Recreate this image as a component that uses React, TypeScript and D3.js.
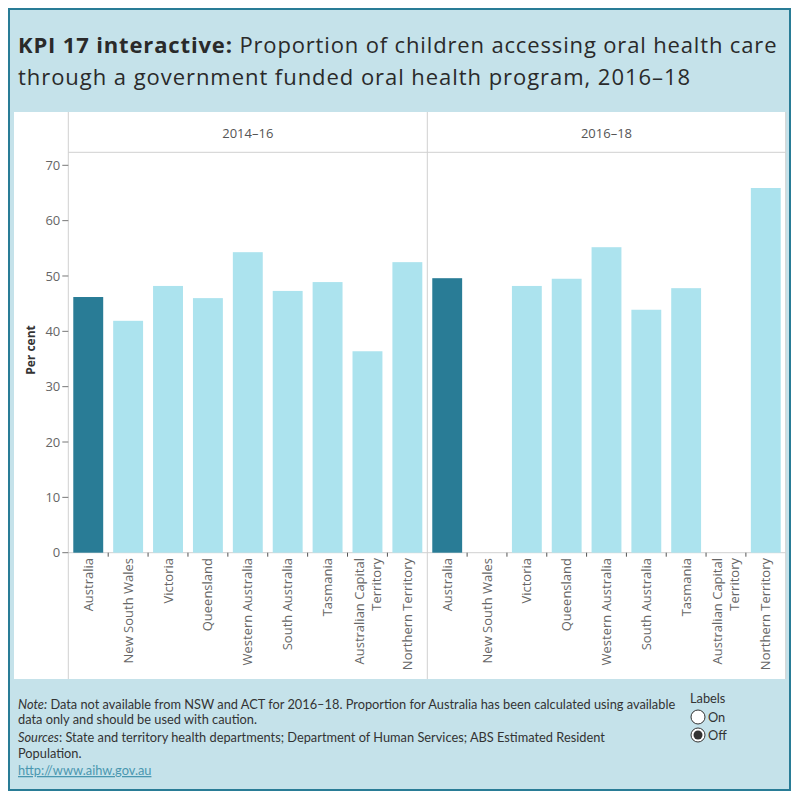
import React from "react";
import * as d3 from "d3";

const categories = [
  "Australia",
  "New South Wales",
  "Victoria",
  "Queensland",
  "Western Australia",
  "South Australia",
  "Tasmania",
  "Australian Capital Territory",
  "Northern Territory",
];
const periods = ["2014–16", "2016–18"];
const values1416: (number | null)[] = [46.2, 41.9, 48.2, 46.0, 54.3, 47.3, 48.9, 36.4, 52.5];
const values1618: (number | null)[] = [49.6, null, 48.2, 49.5, 55.2, 43.9, 47.8, null, 65.9];
const yTicks = [0, 10, 20, 30, 40, 50, 60, 70];

const labelLines: Record<string, string[]> = {
  "Australian Capital Territory": ["Australian Capital", "Territory"],
};

const DARK = "#297c96";
const LIGHT = "#ace3ee";
const BG = "#c5e2ea";
const GRID = "#d0d0d0";
const FONT = "Lato, 'Open Sans', sans-serif";
const TFONT = "'Open Sans', sans-serif";

export default function App() {
  const panelTop = 112;
  const panelBottom = 679;
  const headerBottom = 152.3;
  const axisLeft = 68.3;
  const divider = 427.3;
  const panelRight = 785.7;

  const y = d3.scaleLinear().domain([0, 70]).range([552.7, 165.3]);

  const panels = [
    { label: periods[0], values: values1416, x0: axisLeft, x1: divider },
    { label: periods[1], values: values1618, x0: divider, x1: panelRight },
  ];

  return (
    <svg width={800} height={800} style={{ position: "absolute", left: 0, top: 0 }}>
      <rect x={9} y={9} width={781} height={781} fill={BG} stroke={DARK} strokeWidth={2} />
      <text x={18} y={53} fontFamily={TFONT} fontSize={22} fill="#2a2a2a" letterSpacing={0.85}>
        <tspan fontWeight="bold">KPI 17 interactive:</tspan>
        <tspan> Proportion of children accessing oral health care</tspan>
      </text>
      <text x={18} y={85} fontFamily={TFONT} fontSize={22} fill="#2a2a2a" letterSpacing={0.95}>
        through a government funded oral health program, 2016–18
      </text>

      <rect x={14} y={panelTop} width={panelRight - 14} height={panelBottom - panelTop} fill="#fff" />
      <line x1={axisLeft} x2={panelRight} y1={headerBottom} y2={headerBottom} stroke={GRID} />
      <line x1={axisLeft} x2={axisLeft} y1={panelTop} y2={panelBottom} stroke={GRID} />
      <line x1={divider} x2={divider} y1={panelTop} y2={panelBottom} stroke={GRID} />
      <line x1={panelRight} x2={panelRight} y1={panelTop} y2={panelBottom} stroke={GRID} />
      <line x1={axisLeft} x2={panelRight} y1={y(0)} y2={y(0)} stroke={GRID} />

      {yTicks.map((t) => (
        <g key={t}>
          <line x1={axisLeft - 6} x2={axisLeft} y1={y(t)} y2={y(t)} stroke="#777" />
          <text x={axisLeft - 8} y={y(t)} dy="0.35em" textAnchor="end" fontFamily={TFONT} fontSize={13} fill="#666">
            {t}
          </text>
        </g>
      ))}
      <text
        transform={`translate(35,350) rotate(-90)`}
        textAnchor="middle"
        fontFamily={TFONT}
        fontSize={12}
        fontWeight="bold"
        fill="#333"
      >
        Per cent
      </text>

      {panels.map((p) => {
        const x = d3
          .scaleBand<string>()
          .domain(categories)
          .range([p.x0, p.x1])
          .paddingInner(0.25)
          .paddingOuter(0.125);
        const step = x.step();
        return (
          <g key={p.label}>
            <text
              x={(p.x0 + p.x1) / 2}
              y={133}
              dy="0.35em"
              textAnchor="middle"
              fontFamily={TFONT}
              fontSize={13}
              fill="#555"
            >
              {p.label}
            </text>
            {categories.map((c, i) => {
              const v = p.values[i];
              const bx = x(c) as number;
              const cx = bx + x.bandwidth() / 2;
              const lines = labelLines[c] || [c];
              return (
                <g key={c}>
                  {v !== null && (
                    <rect
                      x={bx}
                      y={y(v)}
                      width={x.bandwidth()}
                      height={y(0) - y(v)}
                      fill={i === 0 ? DARK : LIGHT}
                    />
                  )}
                  {i > 0 && (
                    <line
                      x1={p.x0 + i * step}
                      x2={p.x0 + i * step}
                      y1={y(0)}
                      y2={y(0) + 4}
                      stroke="#555"
                    />
                  )}
                  {lines.map((ln, j) => {
                    const off = (j - (lines.length - 1) / 2) * 17;
                    return (
                      <text
                        key={ln}
                        transform={`translate(${cx + off},558) rotate(-90)`}
                        textAnchor="end"
                        dy="0.35em"
                        fontFamily={TFONT}
                        fontSize={13}
                        fill="#666"
                      >
                        {ln}
                      </text>
                    );
                  })}
                </g>
              );
            })}
          </g>
        );
      })}

      <g fontFamily={FONT} fontSize={12.8} fill="#333">
        <text x={18} y={709}>
          <tspan fontStyle="italic">Note:</tspan>
          <tspan> Data not available from NSW and ACT for 2016–18. Proportion for Australia has been calculated using available</tspan>
        </text>
        <text x={18} y={724}>data only and should be used with caution.</text>
        <text x={18} y={742}>
          <tspan fontStyle="italic">Sources</tspan>
          <tspan>: State and territory health departments; Department of Human Services; ABS Estimated Resident</tspan>
        </text>
        <text x={18} y={758}>Population.</text>
        <text x={18} y={775} fill="#4a97b0" textDecoration="underline">
          http://www.aihw.gov.au
        </text>
        <text x={690} y={703}>Labels</text>
        <circle cx={698} cy={717} r={7} fill="#fff" stroke="#333" />
        <text x={708} y={722}>On</text>
        <circle cx={698} cy={735} r={7} fill="#fff" stroke="#333" />
        <circle cx={698} cy={735} r={4.5} fill="#333" />
        <text x={708} y={740}>Off</text>
      </g>
    </svg>
  );
}
